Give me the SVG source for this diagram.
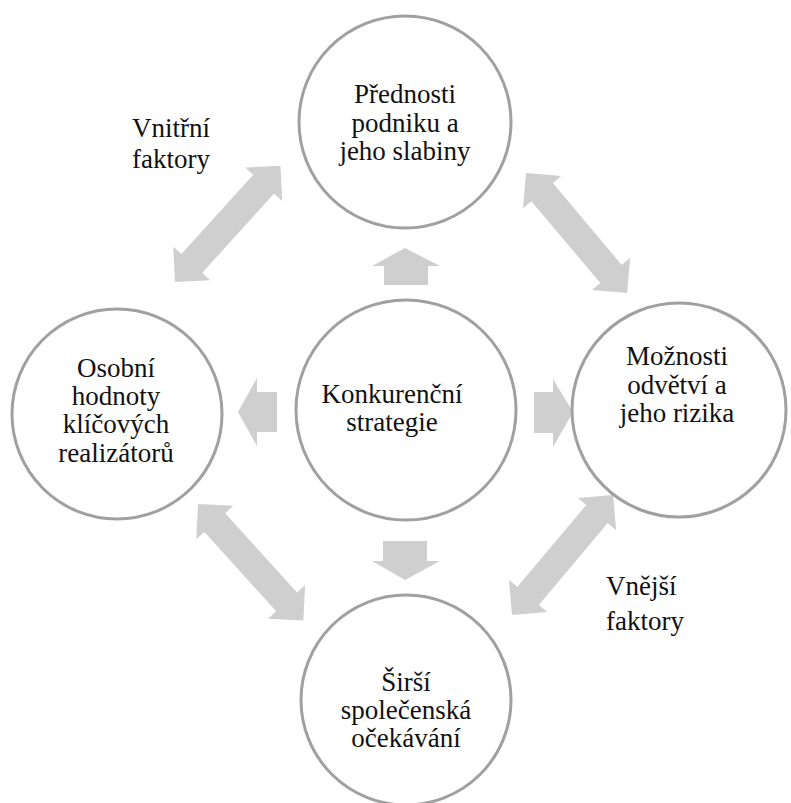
<svg xmlns="http://www.w3.org/2000/svg" width="791" height="803" viewBox="0 0 791 803">
<style>
.node circle{fill:#ffffff;stroke:#a0a0a0;stroke-width:3}
text{font-family:"Liberation Serif","Times New Roman","DejaVu Serif",serif;font-size:27px;fill:#111111}
.c{text-anchor:middle}
.arr{fill:#d0cfd0}
</style>
<defs>
<path id="dbl" d="M0,0 L25,-25 L25,-14 L132,-14 L132,-25 L157,0 L132,25 L132,14 L25,14 L25,25 Z"/>
</defs>
<rect width="791" height="803" fill="#ffffff"/>
<g id="connectors" class="arr">
<use href="#dbl" transform="translate(175,282) rotate(-47.8)"/>
<use href="#dbl" transform="translate(526,173) rotate(49.9)"/>
<use href="#dbl" transform="translate(198,504) rotate(47.85)"/>
<use href="#dbl" transform="translate(512,615) rotate(-49.9)"/>
<polygon points="405,248 440,266 428,266 428,285 384,285 384,266 372,266"/>
<polygon points="383,541 427,541 427,561 440,561 405,580 372,561 383,561"/>
<polygon points="238,412 257,378 257,392 277,392 277,432 257,432 257,446"/>
<polygon points="573,412 553,379 553,392 534,392 534,433 553,433 553,447"/>
</g>
<g id="top" class="node">
<circle cx="405" cy="122" r="106"/>
<text class="c" x="405" y="103">Přednosti</text>
<text class="c" x="405" y="132">podniku a</text>
<text class="c" x="405" y="160">jeho slabiny</text>
</g>
<g id="left" class="node">
<circle cx="117" cy="414" r="105"/>
<text class="c" x="116" y="377">Osobní</text>
<text class="c" x="116" y="405">hodnoty</text>
<text class="c" x="116" y="433">klíčových</text>
<text class="c" x="116" y="462">realizátorů</text>
</g>
<g id="center" class="node">
<circle cx="406" cy="410" r="110"/>
<text class="c" x="392" y="403">Konkurenční</text>
<text class="c" x="392" y="431">strategie</text>
</g>
<g id="right" class="node">
<circle cx="679" cy="410" r="107"/>
<text class="c" x="677" y="365">Možnosti</text>
<text class="c" x="677" y="394">odvětví a</text>
<text class="c" x="677" y="422">jeho rizika</text>
</g>
<g id="bottom" class="node">
<circle cx="406" cy="700" r="105"/>
<text class="c" x="406" y="691">Širší</text>
<text class="c" x="406" y="719">společenská</text>
<text class="c" x="406" y="747">očekávání</text>
</g>
<g id="labels">
<text x="132" y="137">Vnitřní</text>
<text x="132" y="168">faktory</text>
<text x="606" y="595">Vnější</text>
<text x="606" y="630">faktory</text>
</g>
</svg>
